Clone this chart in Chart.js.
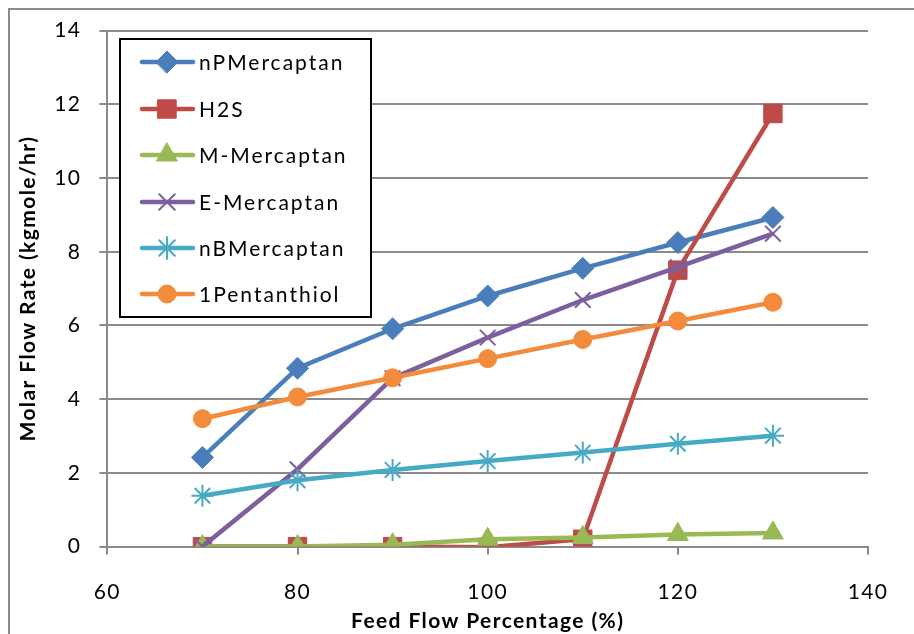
<!DOCTYPE html>
<html>
<head>
<meta charset="utf-8">
<script src="https://cdn.jsdelivr.net/npm/chart.js@4/dist/chart.umd.min.js"></script>
<style>
html,body{margin:0;padding:0;background:#fff;}
#wrap{width:914px;height:634px;position:relative;}
</style>
</head>
<body>
<div id="wrap"><canvas id="c" width="914" height="634"></canvas></div>
<script>
const feedFlow = [70, 80, 90, 100, 110, 120, 130];
const nPMercaptan = [2.42, 4.84, 5.91, 6.80, 7.55, 8.25, 8.93];
const H2S = [0.0, 0.0, 0.0, -0.02, 0.20, 7.50, 11.75];
const MMercaptan = [0.0, 0.0, 0.05, 0.20, 0.25, 0.33, 0.37];
const EMercaptan = [0.0, 2.10, 4.57, 5.67, 6.69, 7.58, 8.49];
const nBMercaptan = [1.38, 1.80, 2.08, 2.32, 2.55, 2.79, 3.01];
const Pentanthiol1 = [3.47, 4.06, 4.58, 5.10, 5.62, 6.12, 6.63];
const seriesNames = ['nPMercaptan', 'H2S', 'M-Mercaptan', 'E-Mercaptan', 'nBMercaptan', '1Pentanthiol'];
const xTitle = 'Feed Flow Percentage (%)';
const yTitle = 'Molar Flow Rate (kgmole/hr)';

const FONT = 'Lato, "Open Sans", sans-serif';
const seriesValues = [nPMercaptan, H2S, MMercaptan, EMercaptan, nBMercaptan, Pentanthiol1];
const styles = [
  {color:'#4A7EBB', point:'rectRot', r:11, bw:1},
  {color:'#BE4B48', point:'rect', r:13, bw:1},
  {color:'#98B954', point:'triangle', r:12, bw:1},
  {color:'#7D5FA0', point:'crossRot', r:11, bw:2},
  {color:'#46AAC5', point:'star', r:11, bw:2},
  {color:'#F38B3C', point:'circle', r:9, bw:1}
];

const datasets = seriesValues.map((vals, i) => ({
  label: seriesNames[i],
  data: feedFlow.map((x, j) => ({x: x, y: vals[j]})),
  borderColor: styles[i].color,
  backgroundColor: styles[i].color,
  pointBackgroundColor: styles[i].color,
  pointBorderColor: styles[i].color,
  pointStyle: styles[i].point,
  pointRadius: styles[i].r,
  pointBorderWidth: styles[i].bw,
  borderWidth: 4.5,
  tension: 0,
  order: seriesValues.length - i
}));

const spacing = {
  id: 'spacing',
  beforeInit(chart) { chart.ctx.letterSpacing = '1.4px'; },
  beforeUpdate(chart) { chart.ctx.letterSpacing = '1.4px'; }
};

const frame = {
  id: 'frame',
  beforeDraw(chart) {
    const ctx = chart.ctx;
    ctx.save();
    ctx.fillStyle = '#fff';
    ctx.fillRect(0, 0, chart.width, chart.height);
    ctx.strokeStyle = '#8a8a8a';
    ctx.lineWidth = 2;
    ctx.beginPath();
    ctx.moveTo(9, 640);
    ctx.lineTo(9, 9);
    ctx.lineTo(920, 9);
    ctx.stroke();
    ctx.restore();
  }
};

const legendBox = {
  id: 'legendBox',
  afterDatasetsDraw(chart) {
    const ctx = chart.ctx;
    const bx = 120, by = 39, bw = 251, bh = 278;
    ctx.save();
    ctx.fillStyle = '#fff';
    ctx.fillRect(bx, by, bw, bh);
    ctx.strokeStyle = '#000';
    ctx.lineWidth = 2;
    ctx.strokeRect(bx, by, bw, bh);
    const ys = [62, 109, 155, 202, 248, 294];
    chart.data.datasets.forEach((ds, i) => {
      const y = ys[i];
      ctx.strokeStyle = ds.borderColor;
      ctx.lineWidth = 4.5;
      ctx.lineCap = 'round';
      ctx.beginPath();
      ctx.moveTo(142, y);
      ctx.lineTo(193, y);
      ctx.stroke();
      ctx.fillStyle = ds.pointBackgroundColor;
      ctx.strokeStyle = ds.pointBorderColor;
      ctx.lineWidth = ds.pointBorderWidth;
      Chart.helpers.drawPoint(ctx, {
        pointStyle: ds.pointStyle,
        radius: ds.pointRadius,
        borderWidth: ds.pointBorderWidth,
        rotation: 0
      }, 167, y);
      ctx.fillStyle = '#000';
      ctx.font = '21px ' + FONT;
      ctx.letterSpacing = '2px';
      ctx.textBaseline = 'middle';
      ctx.textAlign = 'left';
      ctx.fillText(ds.label, 199, y + 1);
    });
    ctx.restore();
  }
};

new Chart(document.getElementById('c'), {
  type: 'line',
  data: { datasets: datasets },
  options: {
    responsive: false,
    animation: false,
    devicePixelRatio: 1,
    layout: { autoPadding: false, padding: { left: 16, right: 46, top: 14, bottom: 0 } },
    plugins: { legend: { display: false }, tooltip: { enabled: false } },
    scales: {
      x: {
        type: 'linear',
        min: 60, max: 140,
        ticks: { stepSize: 20, color: '#000', font: { family: FONT, size: 21 }, padding: 25 },
        grid: { drawOnChartArea: false, drawTicks: true, tickLength: 8, color: '#8a8a8a', lineWidth: 2 },
        border: { display: true, color: '#8a8a8a', width: 2 },
        title: { display: true, text: xTitle, color: '#000', font: { family: FONT, size: 21, weight: 'bold' }, padding: { top: -21, bottom: 0 } }
      },
      y: {
        min: 0, max: 14,
        ticks: { stepSize: 2, color: '#000', font: { family: FONT, size: 21 }, padding: 18 },
        grid: { drawOnChartArea: true, drawTicks: true, tickLength: 8, color: '#8a8a8a', lineWidth: 2 },
        border: { display: true, color: '#8a8a8a', width: 2 },
        title: { display: true, text: yTitle, color: '#000', font: { family: FONT, size: 21, weight: 'bold' }, padding: { top: 0, bottom: -5 } }
      }
    }
  },
  plugins: [spacing, frame, legendBox]
});
</script>
</body>
</html>
